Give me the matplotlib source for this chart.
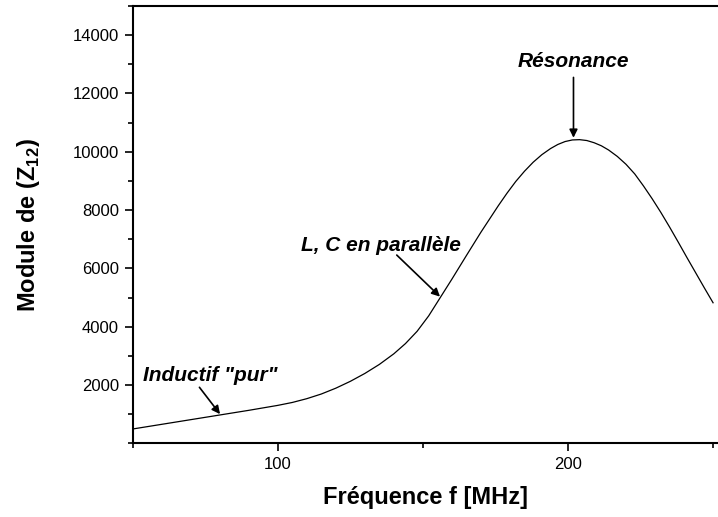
import matplotlib
matplotlib.use('Agg')
import matplotlib.pyplot as plt
from matplotlib.ticker import MultipleLocator

plt.rcParams['font.family'] = ['Liberation Sans', 'DejaVu Sans']
plt.rcParams['mathtext.fontset'] = 'custom'
plt.rcParams['mathtext.rm'] = 'Liberation Sans'
plt.rcParams['mathtext.bf'] = 'Liberation Sans:bold'

# fréquence (MHz) et module de Z12
freq = [50, 65, 80, 90, 100, 105, 110, 115, 120, 125, 130, 135, 140, 144,
        148, 152, 156, 160, 165, 170, 176, 179, 182, 185, 188, 191, 194,
        196.5, 199, 201.5, 204, 206.5, 209, 211.5, 214, 217, 220, 223, 226,
        229, 232, 235, 238, 241, 244, 247, 250]
module = [490, 730, 970, 1130, 1300, 1400, 1530, 1690, 1890, 2125, 2395,
          2705, 3070, 3420, 3840, 4370, 5000, 5630, 6440, 7240, 8150, 8580,
          8980, 9330, 9640, 9900, 10110, 10250, 10350, 10405, 10415, 10385,
          10310, 10205, 10060, 9840, 9570, 9240, 8830, 8390, 7920, 7420, 6900,
          6370, 5850, 5330, 4820]

# annotations : texte, position du texte, début et pointe de la flèche
notes = [
    ('Résonance', (201.8, 13100), (201.9, 12550), (201.9, 10480)),
    ('L, C en parallèle', (135.6, 6800), (141.0, 6456), (155.9, 5030)),
    ('Inductif "pur"', (76.9, 2340), (73.0, 1920), (80.1, 1000)),
]

fig = plt.figure(figsize=(7.18, 5.17), dpi=100)
ax = fig.add_axes([0.1848, 0.1426, 0.8152, 0.8458])

ax.plot(freq, module, color='black', linewidth=0.9)

for label, txt_pos, start, tip in notes:
    ax.text(txt_pos[0], txt_pos[1], label, fontsize=15, fontweight='bold',
            fontstyle='italic', ha='center', va='center')
    ax.annotate('', xy=tip, xytext=start,
                arrowprops=dict(arrowstyle='-|>', color='black', lw=1.2,
                                mutation_scale=12, shrinkA=0, shrinkB=0))

ax.set_xlim(50, 251.7)
ax.set_ylim(0, 15000)
ax.xaxis.set_major_locator(MultipleLocator(100))
ax.xaxis.set_minor_locator(MultipleLocator(50))
ax.set_yticks(range(2000, 15000, 2000))
ax.yaxis.set_minor_locator(MultipleLocator(1000))

ax.tick_params(which='major', direction='out', length=6, width=1.2,
               labelsize=12, pad=4)
ax.tick_params(which='minor', direction='out', length=3.5, width=1.2)

for side in ['left', 'bottom', 'top']:
    ax.spines[side].set_linewidth(1.5)
ax.spines['right'].set_visible(False)

ax.set_xlabel('Fréquence f [MHz]', fontsize=17, fontweight='bold', labelpad=10)
ax.set_ylabel(r'Module de (Z$_{\mathbf{12}}$)', fontsize=17,
              fontweight='bold', labelpad=22)

plt.savefig('out.png', dpi=100)
